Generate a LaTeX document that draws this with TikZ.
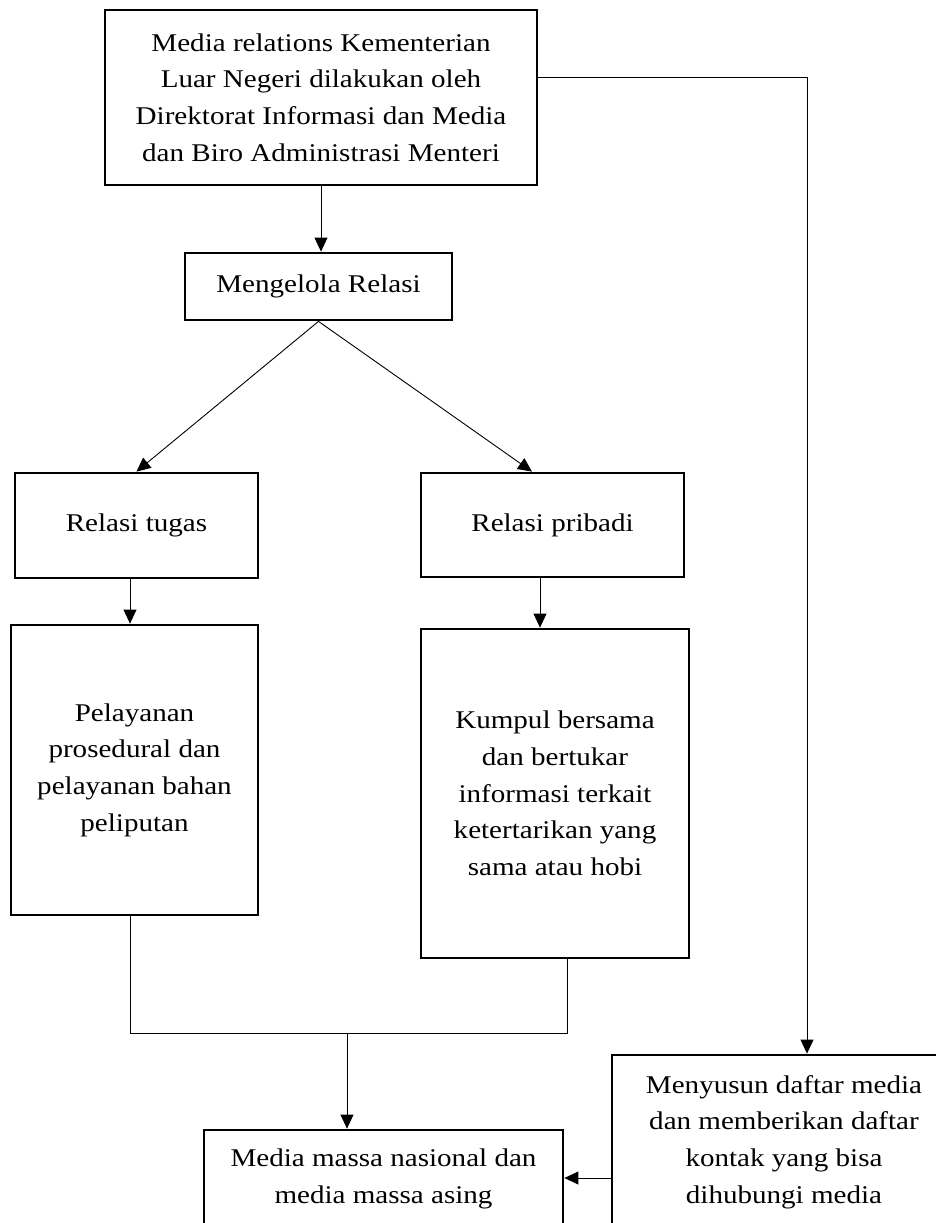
\documentclass[tikz,border=0pt]{standalone}
\usepackage{fontspec}
\setmainfont[FakeStretch=1.14]{Liberation Serif}
\usetikzlibrary{arrows.meta}
\newcommand{\mrfont}{\fontsize{25.5}{36.7}\selectfont}
\tikzset{
    mr box/.style={draw=black, line width=2.8pt, align=center,
                   inner sep=0pt, font=\mrfont},
    mr line/.style={line width=0.9pt, black},
    mr arrow/.style={mr line, -{Triangle[length=14pt, width=13pt]}},
}

\begin{document}
\begin{tikzpicture}[x=1pt, y=-1pt]
    \useasboundingbox (0,0) rectangle (936,1223);
    \clip (0,0) rectangle (936,1223);
    % Top
    \node[mr box, minimum width=432pt, minimum height=175pt]
        (kemlu) at (321, 97.5) {Media relations Kementerian\\Luar Negeri dilakukan oleh\\Direktorat Informasi dan Media\\dan Biro Administrasi Menteri};
    \node[mr box, minimum width=267pt, minimum height=67pt]
        (kelola) at (318.5, 286.5) {Mengelola Relasi};
    % Two kinds of relation
    \node[mr box, minimum width=243pt, minimum height=105pt]
        (tugas) at (136.5, 525.5) {Relasi tugas};
    \node[mr box, minimum width=263pt, minimum height=104pt]
        (pribadi) at (552.5, 525) {Relasi pribadi};
    \node[mr box, minimum width=247pt, minimum height=290pt]
        (layan) at (134.5, 770) {Pelayanan\\prosedural dan\\pelayanan bahan\\peliputan};
    \node[mr box, minimum width=268pt, minimum height=329pt]
        (kumpul) at (555, 793.5) {Kumpul bersama\\dan bertukar\\informasi terkait\\ketertarikan yang\\sama atau hobi};
    % Bottom
    \node[mr box, minimum width=359pt, minimum height=98pt]
        (massa) at (383.5, 1179) {Media massa nasional dan\\media massa asing};
    \node[mr box, minimum width=344pt, minimum height=174pt]
        (susun) at (784, 1142) {Menyusun daftar media\\dan memberikan daftar\\kontak yang bisa\\dihubungi media};
    % Helper points
    \coordinate (belok) at (807, 77);
    \coordinate (kiriJ) at (130, 1033);
    \coordinate (kananJ) at (567, 1033);
    \coordinate (gabung) at (347, 1033);
    \coordinate (pribX) at (540, 0);
    \coordinate (diagR) at (532, 0);
    \coordinate (kontak) at (0, 1178);
    % Connectors
    \draw[mr arrow] (kemlu.south) -- (kemlu.south |- kelola.north);
    \draw[mr arrow] (kemlu.east |- belok) -- (belok) -- (belok |- susun.north);
    \draw[mr arrow] (kelola.south) -- (tugas.north);
    \draw[mr arrow] (kelola.south) -- (diagR |- pribadi.north);
    \draw[mr arrow] (kiriJ |- tugas.south) -- (kiriJ |- layan.north);
    \draw[mr arrow] (pribX |- pribadi.south) -- (pribX |- kumpul.north);
    \draw[mr line] (kiriJ |- layan.south) -- (kiriJ) -- (kananJ)
        -- (kananJ |- kumpul.south);
    \draw[mr arrow] (gabung) -- (gabung |- massa.north);
    \draw[mr arrow] (susun.west |- kontak) -- (massa.east |- kontak);
\end{tikzpicture}
\end{document}
